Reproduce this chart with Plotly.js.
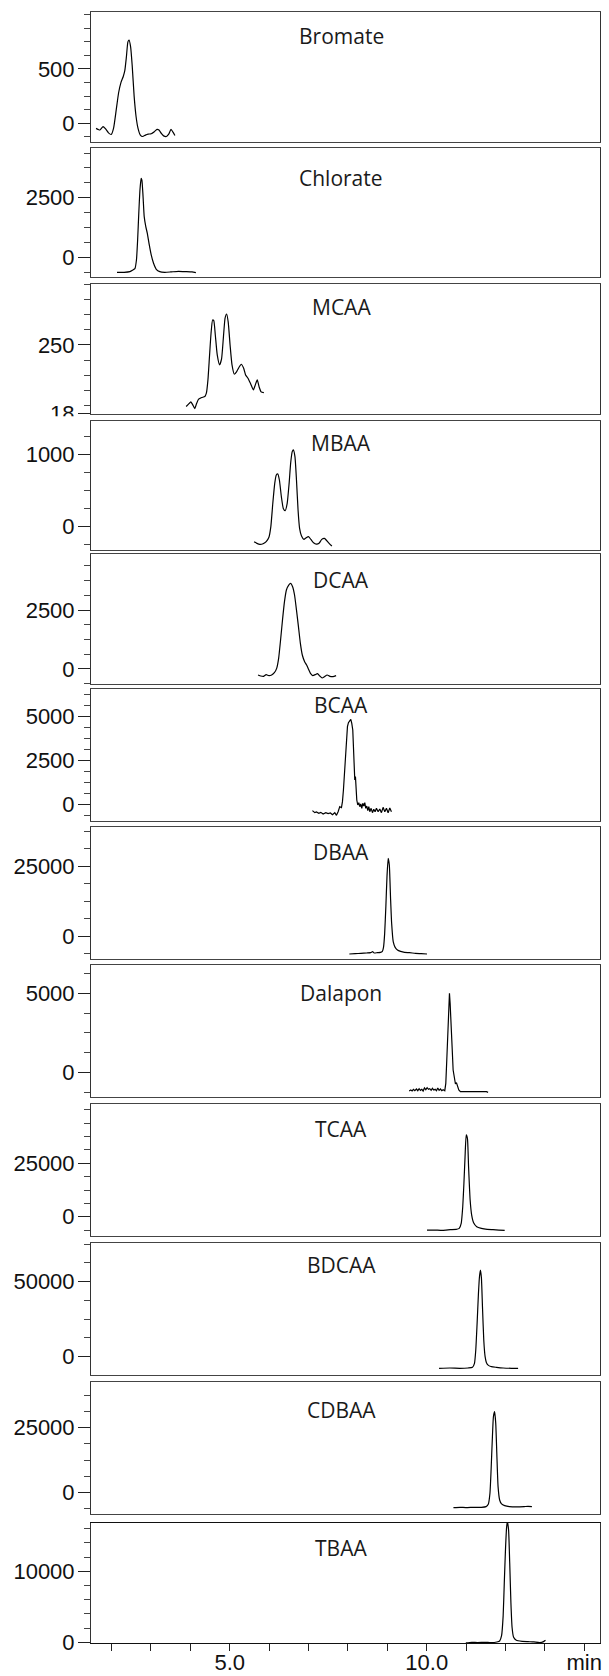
<!DOCTYPE html>
<html>
<head>
<meta charset="utf-8">
<script src="https://cdn.plot.ly/plotly-3.0.1.min.js"></script>
<style>html,body{margin:0;padding:0;background:#fff;}</style>
</head>
<body>
<div id="chart" style="width:609px;height:1676px;"></div>
<script>
// ---------------- data (retention time in min, detector response) ----------------
const compounds = ['Bromate','Chlorate','MCAA','MBAA','DCAA','BCAA','DBAA','Dalapon','TCAA','BDCAA','CDBAA','TBAA'];

const bromateT = [1.606,1.655,1.704,1.783,1.842,1.921,1.990,2.049,2.118,2.178,2.237,2.296,2.335,2.375,2.414,2.444,2.483,2.523,2.572,2.621,2.671,2.730,2.789,2.858,2.927,3.006,3.085,3.154,3.203,3.262,3.321,3.391,3.450,3.509,3.558,3.607];
const bromateV = [-47,-56,-62,-31,-50,-88,-103,-47,125,281,375,431,484,609,750,766,703,531,250,62,-47,-109,-122,-109,-100,-97,-78,-56,-62,-94,-116,-122,-100,-56,-81,-112];

const chlorateT = [2.138,2.316,2.464,2.542,2.592,2.631,2.661,2.690,2.720,2.750,2.769,2.799,2.828,2.868,2.907,2.957,3.006,3.065,3.134,3.223,3.351,3.499,3.696,3.893,4.041,4.140];
const chlorateV = [-629,-629,-601,-531,-475,-112,726,1844,2822,3311,3241,2543,1704,1285,1006,517,98,-251,-503,-601,-629,-615,-587,-601,-615,-643];

const mcaaT = [3.893,3.953,4.012,4.061,4.110,4.160,4.209,4.288,4.367,4.406,4.446,4.485,4.525,4.564,4.594,4.633,4.682,4.742,4.791,4.840,4.880,4.919,4.959,5.008,5.057,5.116,5.176,5.235,5.294,5.353,5.402,5.462,5.531,5.600,5.649,5.698,5.748,5.797,5.866];
const mcaaV = [148.3,152.2,156.0,151.1,145.0,153.8,160.4,163.2,164.8,170.3,192.3,230.8,269.2,291.2,290.1,266.5,233.5,217.0,226.4,263.7,294.0,301.1,288.5,250.0,217.0,201.6,206.0,213.2,218.1,211.5,200.5,195.1,185.7,175.8,184.1,192.3,180.2,172.5,171.4];

const mbaaT = [5.619,5.688,5.767,5.846,5.925,5.994,6.043,6.093,6.142,6.182,6.221,6.260,6.310,6.359,6.408,6.458,6.507,6.546,6.586,6.615,6.655,6.694,6.734,6.773,6.822,6.882,6.941,7.000,7.059,7.128,7.197,7.266,7.335,7.404,7.464,7.523,7.592];
const mbaaV = [-207,-230,-244,-235,-207,-147,0,323,599,714,728,645,415,253,221,323,599,876,1037,1060,968,645,230,-23,-129,-175,-152,-138,-175,-221,-240,-230,-175,-161,-194,-230,-267];

const dcaaT = [5.718,5.787,5.856,5.925,5.994,6.063,6.132,6.191,6.241,6.290,6.339,6.389,6.438,6.497,6.546,6.596,6.645,6.694,6.744,6.793,6.842,6.901,6.951,7.000,7.049,7.108,7.168,7.227,7.286,7.345,7.404,7.473,7.543,7.621,7.700];
const dcaaV = [-254,-297,-311,-240,-282,-254,-155,28,452,1228,2076,2852,3346,3558,3629,3488,3135,2499,1793,1087,593,311,169,-14,-184,-282,-240,-198,-297,-381,-325,-254,-311,-325,-282];

const bcaaT = [7.099,7.159,7.201,7.260,7.311,7.370,7.438,7.497,7.556,7.607,7.666,7.709,7.751,7.793,7.836,7.861,7.886,7.912,7.937,7.963,7.988,8.013,8.047,8.073,8.098,8.123,8.140,8.157,8.174,8.191,8.208,8.225,8.250,8.276,8.301,8.327,8.352,8.377,8.403,8.428,8.453,8.479,8.504,8.530,8.555,8.589,8.623,8.656,8.690,8.724,8.767,8.809,8.851,8.893,8.936,8.978,9.020,9.063,9.105];
const bcaaV = [-363,-478,-440,-516,-459,-554,-478,-535,-497,-592,-478,-630,-421,-135,-192,150,816,1768,2910,3861,4432,4660,4812,4850,4622,4242,3290,2148,1387,1578,816,245,-40,93,-135,17,-230,55,-97,93,-230,-97,-363,-135,-421,-230,-478,-287,-421,-230,-421,-268,-478,-173,-421,-230,-478,-211,-421];

const dbaaT = [8.036,8.183,8.331,8.479,8.578,8.627,8.667,8.746,8.824,8.874,8.903,8.933,8.963,8.992,9.022,9.051,9.081,9.110,9.150,9.199,9.258,9.337,9.436,9.564,9.713,9.861,10.008];
const dbaaV = [-6429,-6310,-6190,-6072,-5952,-5595,-6072,-5952,-5833,-5476,-4048,952,10476,21190,27738,25357,14048,4524,-2024,-4048,-5000,-5476,-5833,-5952,-6190,-6310,-6429];

const dalaponT = [9.554,9.596,9.630,9.664,9.698,9.740,9.774,9.808,9.841,9.875,9.909,9.943,9.977,10.011,10.045,10.078,10.112,10.146,10.180,10.214,10.248,10.281,10.315,10.349,10.383,10.417,10.459,10.485,10.510,10.535,10.561,10.578,10.595,10.611,10.628,10.645,10.671,10.705,10.730,10.755,10.781,10.815,10.857,10.925,11.009,11.094,11.178,11.263,11.348,11.432,11.517,11.559];
const dalaponV = [-1168,-1105,-1168,-1063,-1147,-1042,-1147,-1020,-1126,-1063,-1168,-978,-1084,-957,-1063,-1020,-1126,-999,-1105,-1063,-1147,-978,-1126,-1042,-1147,-1084,-1147,-684,789,2893,4576,4997,4366,3103,2998,1631,158,-579,-726,-642,-852,-1105,-1210,-1210,-1231,-1189,-1231,-1210,-1231,-1189,-1210,-1252];

const tcaaT = [10.008,10.205,10.402,10.600,10.748,10.826,10.876,10.915,10.945,10.974,11.004,11.034,11.063,11.103,11.142,11.191,11.270,11.388,11.536,11.684,11.832,11.980];
const tcaaV = [-6250,-6250,-6406,-6094,-5937,-5469,-3125,4687,15625,28125,38281,36719,23437,7812,781,-2812,-4687,-5469,-5937,-6094,-6250,-6406];

const bdcaaT = [10.314,10.586,10.840,11.051,11.162,11.213,11.246,11.280,11.314,11.340,11.365,11.390,11.416,11.449,11.483,11.517,11.568,11.644,11.771,11.940,12.152,12.321];
const bdcaaV = [-7733,-7533,-7733,-7533,-7089,-4422,4444,22222,42222,53333,57778,52222,33333,11111,0,-4000,-5778,-6667,-7089,-7533,-7733,-7733];

const cdbaaT = [10.679,10.846,10.994,11.191,11.389,11.507,11.566,11.606,11.635,11.665,11.694,11.724,11.753,11.783,11.812,11.852,11.901,11.980,12.099,12.276,12.473,12.572,12.671];
const cdbaaV = [-5928,-5799,-5928,-5799,-5799,-5541,-4510,-387,8634,20233,29254,31186,26676,13789,2191,-2964,-4510,-5155,-5541,-5670,-5541,-5412,-5541];

const tbaaT = [10.994,11.142,11.290,11.487,11.635,11.783,11.852,11.901,11.941,11.970,12.000,12.030,12.049,12.079,12.108,12.138,12.168,12.207,12.276,12.424,12.572,12.720,12.868,12.967,13.016];
const tbaaV = [-93,0,-47,0,-47,47,186,930,3721,8372,13023,16279,16977,15814,11163,5581,2093,698,279,140,93,47,-47,93,279];

// tick labels
const yLabelVals = [[0,500],[0,2500],[136.5,250],[0,1000],[0,2500],[0,2500,5000],[0,25000],[0,5000],[0,25000],[0,50000],[0,25000],[0,10000]];
const yLabelText = [['0','500'],['0','2500'],['18','250'],['0','1000'],['0','2500'],['0','2500','5000'],['0','25000'],['0','5000'],['0','25000'],['0','50000'],['0','25000'],['0','10000']];
const yMinorStep = [125,625,25,250,625,625,6250,1250,6250,12500,6250,2000];
const xTickVals = [2,3,4,5,6,7,8,9,10,11,12,13,14];
const xTickText = ['','','','5.0','','','','','10.0','','','','min'];

const times = [bromateT,chlorateT,mcaaT,mbaaT,dcaaT,bcaaT,dbaaT,dalaponT,tcaaT,bdcaaT,cdbaaT,tbaaT];
const signals = [bromateV,chlorateV,mcaaV,mbaaV,dcaaV,bcaaV,dbaaV,dalaponV,tcaaV,bdcaaV,cdbaaV,tbaaV];

// ---------------- layout geometry ----------------
const W = 609, H = 1676, ML = 91, MR = 9, MT = 12, MB = 33;
const plotW = W - ML - MR, plotH = H - MT - MB;
const frames = [[12,141.5],[148,277.3],[284,413.8],[421,550],[554,684],[689,820.7],[827,959],[965,1096.5],[1104,1235.7],[1243,1374.7],[1382.3,1514],[1522.7,1643]];
const yRanges = [[-168,1025],[-839,4585],[136.3,350.6],[-322,1460],[-636,4873],[-936,6581],[-8214,38929],[-1515,6787],[-8895,52762],[-12000,75800],[-8398,42570],[-100,16850]];
const titleCapY = [36,177.5,306.7,443.3,580.3,705,852.5,993.3,1128.8,1264.8,1409.7,1548.3];
const smooth = [true,true,true,true,true,false,true,false,true,true,true,true];
const xRange = [1.477, 14.40];

const py = p => (H - MB - p) / plotH;
const px = p => (p - ML) / plotW;

const tickFont = {family:'"Liberation Sans", Arial, sans-serif', size:22, color:'#111'};
const traces = [];
const annotations = [];
const layout = {
  width: W, height: H,
  margin: {l: ML, r: MR, t: MT, b: MB, pad: 0},
  paper_bgcolor: '#fff', plot_bgcolor: '#fff',
  showlegend: false,
  annotations: annotations,
  shapes: []
};

compounds.forEach((name, i) => {
  const n = i === 0 ? '' : String(i + 1);
  const last = i === compounds.length - 1;
  traces.push({
    type: 'scatter', mode: 'lines',
    x: times[i], y: signals[i],
    xaxis: 'x' + n, yaxis: 'y' + n,
    line: {color: '#000', width: 1.2, shape: smooth[i] ? 'spline' : 'linear', smoothing: 0.5},
    hoverinfo: 'skip'
  });
  const [top, bottom] = frames[i];
  const st = yMinorStep[i];
  const minorVals = [];
  for (let v = Math.ceil(yRanges[i][0] / st) * st; v <= yRanges[i][1]; v += st) minorVals.push(v);
  layout['xaxis' + n] = {
    domain: [0, 1], range: xRange, anchor: 'y' + n,
    showline: true, mirror: true, linecolor: last ? '#111' : '#444', linewidth: 1,
    showgrid: false, zeroline: false, fixedrange: true,
    ticks: last ? 'outside' : '', ticklen: 7, tickwidth: 1, tickcolor: '#222',
    showticklabels: last,
    ticklabelstandoff: -7,
    tickmode: 'array', tickvals: xTickVals, ticktext: xTickText,
    tickfont: tickFont
  };
  layout['yaxis' + n] = {
    domain: [py(bottom), py(top)], range: yRanges[i], anchor: 'x' + n,
    showline: true, mirror: true, linecolor: '#333', linewidth: 1,
    showgrid: false, zeroline: false, fixedrange: true,
    ticks: 'outside', ticklen: 12, tickwidth: 1, tickcolor: '#222',
    ticklabelstandoff: -1,
    tickmode: 'array', tickvals: yLabelVals[i], ticktext: yLabelText[i],
    tickfont: tickFont,
    minor: {ticks: 'outside', ticklen: 6, tickwidth: 1, tickcolor: '#444', tickmode: 'array', tickvals: minorVals, showgrid: false}
  };
  annotations.push({
    xref: 'paper', yref: 'paper', x: px(341), y: py(titleCapY[i]),
    xanchor: 'center', yanchor: 'middle', showarrow: false,
    text: name,
    font: {family: '"Open Sans", "Noto Sans", sans-serif', size: 21, color: '#1a1a1a'}
  });
});

// the MCAA bottom label is cut off by the panel below in the original
layout.shapes.push({
  type: 'rect', xref: 'paper', yref: 'paper', layer: 'above',
  x0: px(0), x1: px(88), y0: py(421), y1: py(416.2),
  fillcolor: '#fff', line: {width: 0}
});

Plotly.newPlot('chart', traces, layout, {staticPlot: true, displayModeBar: false});
</script>
</body>
</html>
